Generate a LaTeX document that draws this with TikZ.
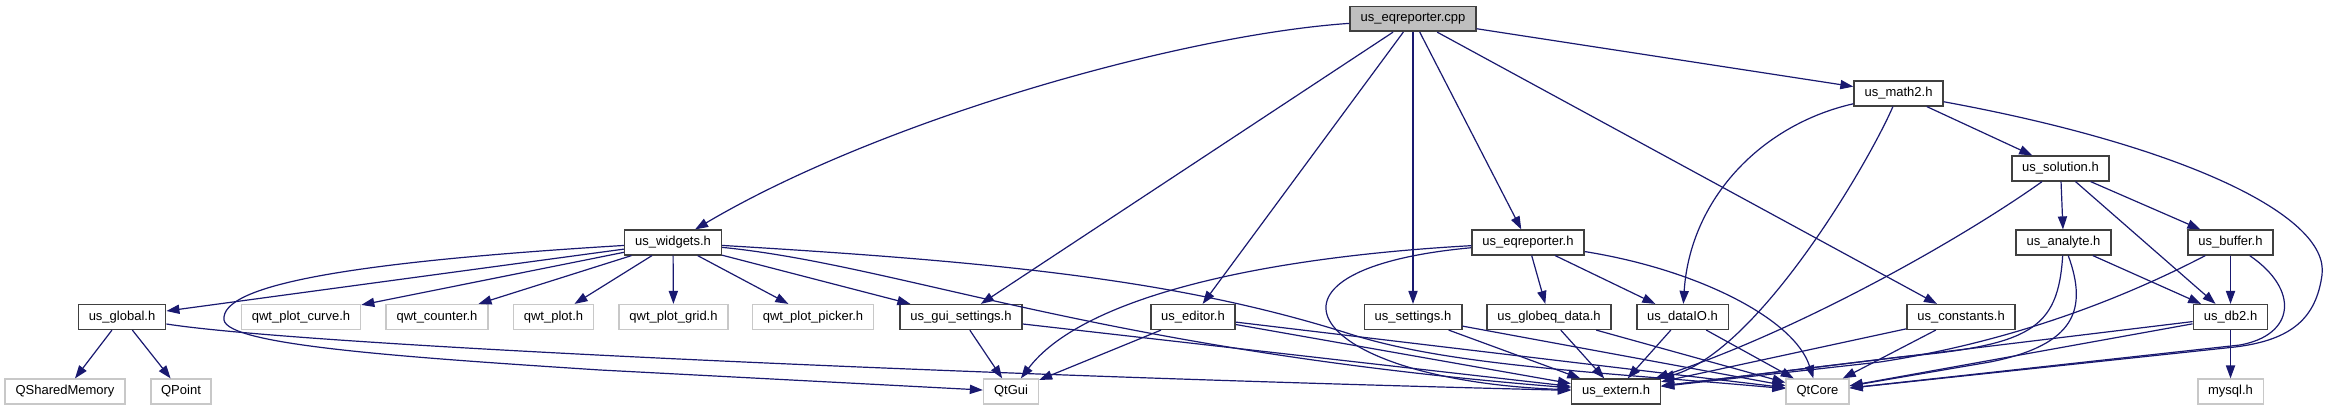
\documentclass[tikz,border=0pt]{standalone}
\usepackage{fontspec}
\setmainfont{Liberation Sans}
\usetikzlibrary{arrows.meta}
\definecolor{edgeblue}{HTML}{191970}
\definecolor{rootgray}{HTML}{BFBFBF}
\definecolor{sysgray}{HTML}{C8C8C8}
\definecolor{boxline}{HTML}{404040}

\begin{document}
\begin{tikzpicture}[x=0.5pt,y=-0.5pt,font=\fontsize{6.5}{7.8}\selectfont,
        n/.style={draw=boxline,line width=0.8pt,fill=white,inner xsep=5.2pt,inner ysep=0pt,minimum height=12.3pt},
        sys/.style={n,draw=sysgray},
        root/.style={n,fill=rootgray},
        a/.style={-{Triangle[length=6.5pt,width=4.6pt]},line width=0.6pt,edgeblue}]
        \useasboundingbox (0,0) rectangle (2329,411);
        \fill[white] (0,0) rectangle (2329,411);
        \node[root] (root) at (1413,19) {us\_eqreporter.cpp};
        \node[n] (math2) at (1898.5,93.5) {us\_math2.h};
        \node[n] (solution) at (2060.5,168.5) {us\_solution.h};
        \node[n] (widgets) at (673,242.5) {us\_widgets.h};
        \node[n] (eqrep) at (1528,242.5) {us\_eqreporter.h};
        \node[n] (analyte) at (2063.5,242.5) {us\_analyte.h};
        \node[n] (buffer) at (2230.5,242.5) {us\_buffer.h};
        \node[n] (global) at (122,317) {us\_global.h};
        \node[sys] (curve) at (301,317) {qwt\_plot\_curve.h};
        \node[sys] (counter) at (437,317) {qwt\_counter.h};
        \node[sys] (plot) at (553.5,317) {qwt\_plot.h};
        \node[sys] (grid) at (673.5,317) {qwt\_plot\_grid.h};
        \node[sys] (picker) at (813,317) {qwt\_plot\_picker.h};
        \node[n] (guiset) at (961,317) {us\_gui\_settings.h};
        \node[n] (editor) at (1193,317) {us\_editor.h};
        \node[n] (settings) at (1413,317) {us\_settings.h};
        \node[n] (globeq) at (1549,317) {us\_globeq\_data.h};
        \node[n] (dataio) at (1682.5,317) {us\_dataIO.h};
        \node[n] (consts) at (1961,317) {us\_constants.h};
        \node[n] (db2) at (2230.5,317) {us\_db2.h};
        \node[sys] (shm) at (65,391.5) {QSharedMemory};
        \node[sys] (qpoint) at (181,391.5) {QPoint};
        \node[sys] (qtgui) at (1011,391.5) {QtGui};
        \node[n] (extern) at (1616,391.5) {us\_extern.h};
        \node[sys] (qtcore) at (1817.5,391.5) {QtCore};
        \node[sys] (mysql) at (2230.5,391.5) {mysql.h};
        % includes of the .cpp
        \draw[a] (root) .. controls (1180,35) and (880,120) .. (widgets);
        \draw[a] (root) -- (guiset); \draw[a] (root) -- (editor);
        \draw[a] (root) -- (settings); \draw[a] (root) -- (eqrep);
        \draw[a] (root) -- (consts); \draw[a] (root) -- (math2);
        % math2, solution
        \draw[a] (math2) -- (solution);
        \draw[a] (math2) .. controls (1760,125) and (1690,200) .. (dataio);
        \draw[a] (math2) .. controls (1870,160) and (1760,350) .. (extern);
        \draw[a] (math2) .. controls (2180,145) and (2330,215) .. (2322,275) .. controls (2316,318) and (2292,340) .. (2235,347) -- (qtcore);
        \draw[a] (solution) -- (analyte); \draw[a] (solution) -- (buffer); \draw[a] (solution) -- (db2);
        \draw[a] (solution) .. controls (1960,240) and (1800,330) .. (extern);
        % analyte, buffer, db2
        \draw[a] (analyte) -- (db2);
        \draw[a] (analyte) .. controls (2058,330) and (2030,345) .. (1900,357) -- (extern);
        \draw[a] (analyte) .. controls (2088,310) and (2075,345) .. (1990,362) -- (qtcore);
        \draw[a] (buffer) -- (db2);
        \draw[a] (buffer) .. controls (2120,300) and (2010,342) .. (1880,362) -- (extern);
        \draw[a] (buffer) .. controls (2300,290) and (2295,335) .. (2240,345) -- (qtcore);
        \draw[a] (db2) -- (mysql); \draw[a] (db2) -- (extern); \draw[a] (db2) -- (qtcore);
        % second row headers
        \draw[a] (consts) -- (extern); \draw[a] (consts) -- (qtcore);
        \draw[a] (dataio) -- (extern); \draw[a] (dataio) -- (qtcore);
        \draw[a] (globeq) -- (extern); \draw[a] (globeq) -- (qtcore);
        \draw[a] (settings) -- (extern); \draw[a] (settings) -- (qtcore);
        \draw[a] (eqrep) -- (globeq); \draw[a] (eqrep) -- (dataio);
        \draw[a] (eqrep) .. controls (1700,270) and (1795,320) .. (qtcore);
        \draw[a] (eqrep) .. controls (1250,258) and (1080,300) .. (qtgui);
        \draw[a] (eqrep) .. controls (1230,270) and (1310,380) .. (extern);
        \draw[a] (editor) -- (qtgui); \draw[a] (editor) -- (extern); \draw[a] (editor) -- (qtcore);
        \draw[a] (guiset) -- (qtgui); \draw[a] (guiset) -- (extern);
        \draw[a] (global) -- (shm); \draw[a] (global) -- (qpoint);
        \draw[a] (global) .. controls (300,345) and (950,375) .. (extern);
        % widgets
        \draw[a] (widgets) -- (global); \draw[a] (widgets) -- (curve); \draw[a] (widgets) -- (counter);
        \draw[a] (widgets) -- (plot); \draw[a] (widgets) -- (grid); \draw[a] (widgets) -- (picker);
        \draw[a] (widgets) -- (guiset);
        \draw[a] (widgets) .. controls (350,262) and (220,285) .. (224,320) .. controls (228,345) and (400,357) .. (600,370) -- (qtgui);
        \draw[a] (widgets) .. controls (900,265) and (1100,350) .. (extern);
        \draw[a] (widgets) .. controls (1000,262) and (1180,280) .. (1350,334) .. controls (1450,366) and (1600,372) .. (qtcore);
\end{tikzpicture}
\end{document}
